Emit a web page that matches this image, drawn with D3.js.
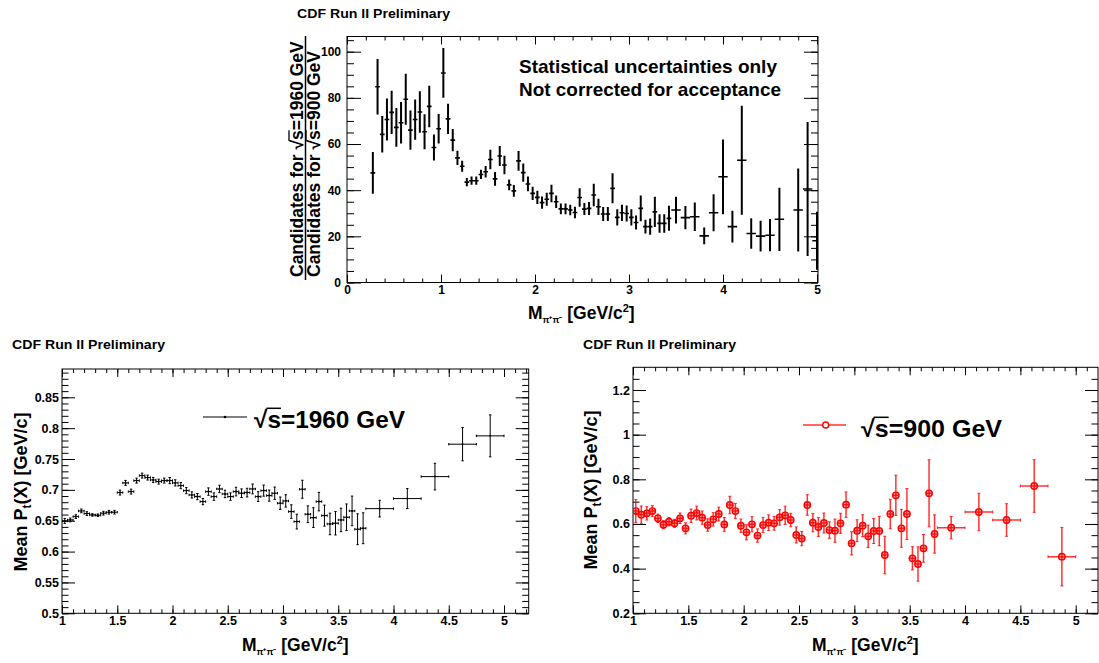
<!DOCTYPE html>
<html>
<head>
<meta charset="utf-8">
<script src="https://cdn.jsdelivr.net/npm/d3@7"></script>
<style>
body { margin: 0; background: #fff; }
svg { display: block; font-family: "Liberation Sans", Arial, Helvetica, sans-serif; font-weight: bold; }
</style>
</head>
<body>
<div id="chart"></div>
<script>
// ---- data ----
// top: ratio of candidates 1960 / 900 GeV, 0.05 bins then 0.1 bins
var ratioFineX = [0.275,0.325,0.375,0.425,0.475,0.525,0.575,0.625,0.675,0.725,0.775,0.825,0.875,0.925,0.975,
  1.025,1.075,1.125,1.175,1.225,1.275,1.325,1.375,1.425,1.475,1.525,1.575,1.625,1.675,1.725,1.775,1.825,1.875,1.925,1.975,
  2.025,2.075,2.125,2.175,2.225,2.275,2.325,2.375,2.425,2.475,2.525,2.575,2.625,2.675,2.725,2.775,2.825,2.875,2.925,2.975,
  3.025,3.075,3.125,3.175,3.225,3.275,3.325,3.375,3.425];
var ratioFineY = [47.5,84.8,64.2,70.6,73.7,67.2,69.2,79.4,66,70.6,73.9,65.3,76.3,58.5,66.6,
  90.8,70.9,61.7,54,50.4,43.5,44.1,44.1,46.8,48,53.3,44.9,54.8,50.9,42.3,39.7,52.7,47.6,42.7,38.6,
  36.9,34.6,36.1,38.6,35,31.9,31.9,31.4,30.3,36.8,31.8,32.1,37.9,32.8,29.7,29.7,40.8,28.2,30.2,29.9,
  28.2,26,32.1,24.2,24.2,30.6,25.6,25.6,27.8];
var ratioFineErr = [9,12,7.9,9.1,9.4,8.4,9,11,8.5,8.7,9,7.6,9,5.6,6.4,
  10.8,6.6,4.8,3.1,2.4,1.8,1.8,1.8,2,2.5,4.2,3,4.3,4,2.3,2.5,4.3,4,3.2,2.9,
  2.9,2.7,2.8,3.8,2.7,2.3,2.3,2.3,2.5,4,2.6,2.8,4.9,3.5,3,3,6.5,3.5,3.5,3.5,
  3.5,3,5.6,3,3.5,6.5,4,4,5.4];
var ratioWideX = [3.5,3.6,3.7,3.8,3.9,4.0,4.1,4.2,4.3,4.4,4.5,4.6,4.8,4.9,5.0];
var ratioWideY = [31.4,28.1,28.5,20.2,30.2,45.8,24.2,53,21.2,20.1,20.5,27.4,31.4,40.5,18.1];
var ratioWideErr = [5.8,5,6.2,3.6,8,16.2,6.9,23.6,6.6,6.7,7,13.7,18,29,12.6];

// bottom left: mean pt at 1960 GeV
var pt1960FineX = [1.025,1.075,1.125,1.175,1.225,1.275,1.325,1.375,1.425,1.475,1.525,1.575,1.625,1.675,1.725,1.775,1.825,1.875,1.925,1.975,
  2.025,2.075,2.125,2.175,2.225,2.275,2.325,2.375,2.425,2.475,2.525,2.575,2.625,2.675,2.725,2.775,2.825,2.875,2.925,2.975,
  3.025,3.075,3.125,3.175,3.225,3.275,3.325,3.375,3.425,3.475,3.525,3.575,3.625,3.675,3.725];
var pt1960FineY = [0.6497,0.6513,0.6567,0.6659,0.6616,0.6594,0.6589,0.6622,0.6638,0.6638,0.6956,0.7113,0.6972,0.715,0.7231,0.7199,0.7161,0.7134,0.715,0.715,
  0.7113,0.7069,0.6988,0.6918,0.6891,0.681,0.6972,0.6891,0.7015,0.6934,0.6891,0.6972,0.6946,0.6956,0.7015,0.6891,0.6988,0.6907,0.6946,0.6784,
  0.6821,0.6648,0.6486,0.701,0.6605,0.655,0.681,0.6583,0.6448,0.6459,0.6513,0.6556,0.6659,0.6362,0.6378];
var pt1960FineErr = [0.004,0.003,0.003,0.003,0.003,0.002,0.002,0.003,0.003,0.003,0.004,0.004,0.004,0.004,0.004,0.004,0.004,0.004,0.004,0.005,
  0.005,0.005,0.005,0.005,0.005,0.005,0.006,0.006,0.006,0.006,0.006,0.007,0.007,0.007,0.008,0.008,0.009,0.009,0.01,0.01,
  0.01,0.011,0.012,0.0146,0.0135,0.016,0.015,0.017,0.0175,0.019,0.019,0.0216,0.024,0.025,0.025];
var pt1960WideX = [3.875,4.125,4.375,4.625,4.875];
var pt1960WideY = [0.6696,0.6859,0.7215,0.774,0.7875];
var pt1960WideErr = [0.0135,0.0162,0.0216,0.027,0.034];

// bottom right: mean pt at 900 GeV
var pt900FineX = pt1960FineX;
var pt900FineY = [0.658,0.6416,0.6476,0.658,0.6254,0.5968,0.6102,0.6028,0.6254,0.5806,0.637,0.649,0.6284,0.5953,0.6208,0.6446,0.598,0.685,0.658,0.5923,
  0.5627,0.5986,0.548,0.5953,0.6058,0.6028,0.6297,0.6387,0.6178,0.551,0.5346,0.685,0.6058,0.5864,0.6043,0.5729,0.5699,0.6028,0.6864,0.5135,
  0.5699,0.5923,0.5448,0.5686,0.5686,0.461,0.6447,0.7284,0.5806,0.6447,0.4463,0.4208,0.491,0.7374,0.5551];
var pt900FineErr = [0.052,0.039,0.03,0.024,0.019,0.018,0.019,0.018,0.024,0.025,0.03,0.031,0.03,0.028,0.03,0.031,0.031,0.039,0.034,0.03,
  0.034,0.034,0.03,0.034,0.035,0.031,0.035,0.041,0.03,0.036,0.032,0.046,0.041,0.043,0.045,0.037,0.052,0.045,0.057,0.052,
  0.049,0.049,0.05,0.056,0.066,0.084,0.066,0.09,0.085,0.114,0.052,0.077,0.062,0.15,0.086];
var pt900WideX = pt1960WideX;
var pt900WideY = [0.5834,0.6536,0.6178,0.77,0.4535];
var pt900WideErr = [0.05,0.084,0.073,0.118,0.131];

// tick labels
var topXTicks = [0,1,2,3,4,5];
var topYTicks = [0,20,40,60,80,100];
var massTicks = [1,1.5,2,2.5,3,3.5,4,4.5,5];
var pt1960YTicks = [0.5,0.55,0.6,0.65,0.7,0.75,0.8,0.85];
var pt900YTicks = [0.2,0.4,0.6,0.8,1,1.2];

function points(xs, ys, es, w) {
  return xs.map(function(v, i) { return {x: v, y: ys[i], e: es[i], w: w}; });
}

var W = 1099, H = 663;
var svg = d3.select("#chart").append("svg").attr("width", W).attr("height", H);

function fmt(v) { return String(+v.toFixed(2)); }

function makePanel(p) {
  var x = d3.scaleLinear().domain(p.xDomain).range(p.xRange);
  var y = d3.scaleLinear().domain(p.yDomain).range(p.yRange);
  var g = svg.append("g");

  function axis(gen, vals, size, labels, tx, ty) {
    var horiz = gen === d3.axisBottom || gen === d3.axisTop;
    var a = gen(horiz ? x : y)
      .tickValues(vals).tickSizeInner(-size).tickSizeOuter(0)
      .tickPadding(labels ? (horiz ? p.xPad : p.yPad) : 0)
      .tickFormat(labels ? fmt : "");
    var ag = g.append("g").attr("transform", "translate(" + tx + "," + ty + ")").call(a);
    ag.attr("font-family", null).attr("font-size", null);
    ag.select(".domain").remove();
    ag.selectAll("line").attr("stroke", "#000");
    ag.selectAll("text").attr("font-size", p.tickFont).attr("fill", "#000");
    return ag;
  }
  // minor then major ticks on all four sides, pointing in
  [d3.axisBottom, d3.axisTop].forEach(function(gen) {
    var ty = gen === d3.axisBottom ? p.bottom : p.top;
    axis(gen, p.xMinor, p.xTick / 2, false, 0, ty);
    axis(gen, p.xMajor, p.xTick, gen === d3.axisBottom, 0, ty);
  });
  [d3.axisLeft, d3.axisRight].forEach(function(gen) {
    var tx = gen === d3.axisLeft ? p.left : p.right;
    axis(gen, p.yMinor, p.yTick / 2, false, tx, 0);
    axis(gen, p.yMajor, p.yTick, gen === d3.axisLeft, tx, 0);
  });

  g.append("rect")
    .attr("x", p.left).attr("y", p.top)
    .attr("width", p.right - p.left).attr("height", p.bottom - p.top)
    .attr("fill", "none").attr("stroke", "#000").attr("stroke-width", 1);

  var clipId = "clip" + p.left;
  svg.append("clipPath").attr("id", clipId).append("rect")
    .attr("x", p.left).attr("y", p.top).attr("width", p.right - p.left).attr("height", p.bottom - p.top);
  var plot = g.append("g").attr("clip-path", "url(#" + clipId + ")");
  return {x: x, y: y, g: g, plot: plot};
}

function drawErrors(pan, pts, color, vw, hw, cap, opacity) {
  var x = pan.x, y = pan.y;
  var sel = pan.plot.selectAll(null).data(pts).enter().append("g")
    .attr("stroke", color).attr("stroke-opacity", opacity);
  sel.append("line")
    .attr("x1", d => x(d.x)).attr("x2", d => x(d.x))
    .attr("y1", d => y(d.y - d.e)).attr("y2", d => y(d.y + d.e))
    .attr("stroke-width", vw);
  sel.append("line")
    .attr("x1", d => x(d.x - d.w / 2)).attr("x2", d => x(d.x + d.w / 2))
    .attr("y1", d => y(d.y)).attr("y2", d => y(d.y))
    .attr("stroke-width", hw);
  if (cap > 0) {
    sel.append("path")
      .attr("fill", "none").attr("stroke-width", 1)
      .attr("d", function(d) {
        var cx = x(d.x), t = y(d.y + d.e), b = y(d.y - d.e), l = x(d.x - d.w / 2), r = x(d.x + d.w / 2), cy = y(d.y);
        return "M" + (cx - cap) + "," + t + "H" + (cx + cap) +
               "M" + (cx - cap) + "," + b + "H" + (cx + cap) +
               "M" + l + "," + (cy - cap) + "V" + (cy + cap) +
               "M" + r + "," + (cy - cap) + "V" + (cy + cap);
      });
  }
  return sel;
}

// bar over the "s" that follows the radical sign
function sqrtBar(parent, textSel, fs, sw) {
  var node = textSel.node();
  var i = node.textContent.indexOf("\u221A");
  if (i < 0) return;
  var a = node.getExtentOfChar(i), b = node.getExtentOfChar(i + 1);
  var baseY = +textSel.attr("y") || 0;
  var yTop = baseY - fs * 0.80;
  parent.append("line")
    .attr("x1", a.x + a.width - 1).attr("x2", b.x + b.width)
    .attr("y1", yTop).attr("y2", yTop)
    .attr("stroke", "#000").attr("stroke-width", sw);
}

function massTitle(x0, y0) {
  var t = svg.append("text").attr("x", x0).attr("y", y0).attr("font-size", 17.5).attr("fill", "#000");
  t.append("tspan").text("M");
  t.append("tspan").attr("font-size", 9).attr("dy", 4).text("\u03C0\u207A\u03C0\u207B");
  t.append("tspan").attr("dy", -4).text(" [GeV/c");
  t.append("tspan").attr("font-size", 11).attr("dy", -7).text("2");
  t.append("tspan").attr("dy", 7).text("]");
}

function ptTitle(xb, yc) {
  var gg = svg.append("g").attr("transform", "translate(" + xb + "," + yc + ") rotate(-90)");
  var t = gg.append("text").attr("text-anchor", "middle").attr("font-size", 18).attr("fill", "#000");
  t.append("tspan").text("Mean P");
  t.append("tspan").attr("font-size", 12).attr("dy", 4).text("t");
  t.append("tspan").attr("dy", -4).text("(X) [GeV/c]");
}

function cdfLabel(x0, y0) {
  svg.append("text").attr("x", x0).attr("y", y0).attr("font-size", 12.5).attr("fill", "#000")
    .attr("textLength", 153).attr("lengthAdjust", "spacingAndGlyphs")
    .text("CDF Run II Preliminary");
}

// ---------------- top panel ----------------
var topP = makePanel({
  left: 347, right: 818, top: 36.5, bottom: 282.5,
  xDomain: [0, 5], xRange: [347, 817], yDomain: [0, 100], yRange: [282.5, 51.7],
  xMajor: topXTicks, xMinor: d3.range(0, 5.01, 0.2),
  yMajor: topYTicks, yMinor: d3.range(0, 106, 5),
  xTick: 8, yTick: 14, tickFont: 12, xPad: 3, yPad: 6
});
var ratioPts = points(ratioFineX, ratioFineY, ratioFineErr, 0.05)
  .concat(points(ratioWideX, ratioWideY, ratioWideErr, 0.1));
drawErrors(topP, ratioPts, "#000", 2, 1.6, 0, 1);

cdfLabel(297, 18);
svg.append("text").attr("x", 519).attr("y", 73).attr("font-size", 18.5).attr("fill", "#000")
  .attr("textLength", 258).attr("lengthAdjust", "spacingAndGlyphs")
  .text("Statistical uncertainties only");
svg.append("text").attr("x", 519).attr("y", 96).attr("font-size", 18.5).attr("fill", "#000")
  .attr("textLength", 262).attr("lengthAdjust", "spacingAndGlyphs")
  .text("Not corrected for acceptance");
massTitle(528, 318.5);

// fraction y title
var numG = svg.append("g").attr("transform", "translate(303,277) rotate(-90)");
var numT = numG.append("text").attr("x", 0).attr("y", 0).attr("font-size", 17.5).attr("fill", "#000")
  .text("Candidates for \u221As=1960 GeV");
sqrtBar(numG, numT, 17.5, 1.3);
var denG = svg.append("g").attr("transform", "translate(320,277) rotate(-90)");
var denT = denG.append("text").attr("x", 0).attr("y", 0).attr("font-size", 17.5).attr("fill", "#000")
  .text("Candidates for \u221As=900 GeV");
sqrtBar(denG, denT, 17.5, 1.3);
svg.append("line").attr("x1", 305.5).attr("x2", 305.5).attr("y1", 36).attr("y2", 280)
  .attr("stroke", "#000").attr("stroke-width", 1.5);

// ---------------- bottom left ----------------
var leftP = makePanel({
  left: 62, right: 528.7, top: 369, bottom: 613.3,
  xDomain: [1, 5], xRange: [62, 504], yDomain: [0.5, 0.85], yRange: [613.3, 397.3],
  xMajor: massTicks, xMinor: d3.range(1, 5.22, 0.1),
  yMajor: pt1960YTicks, yMinor: d3.range(0.5, 0.895, 0.01),
  xTick: 8, yTick: 13, tickFont: 12.5, xPad: 3, yPad: 3
});
var pts1960 = points(pt1960FineX, pt1960FineY, pt1960FineErr, 0.05)
  .concat(points(pt1960WideX, pt1960WideY, pt1960WideErr, 0.25));
drawErrors(leftP, pts1960, "#000", 1, 1, 1.2, 1);
leftP.plot.selectAll(null).data(pts1960).enter().append("circle")
  .attr("cx", d => leftP.x(d.x)).attr("cy", d => leftP.y(d.y)).attr("r", 1).attr("fill", "#000");

cdfLabel(12, 349);
massTitle(242, 650.5);
ptTitle(27, 492);
// legend
svg.append("line").attr("x1", 203).attr("x2", 247).attr("y1", 417).attr("y2", 417)
  .attr("stroke", "#000").attr("stroke-width", 1);
svg.append("circle").attr("cx", 225).attr("cy", 417).attr("r", 1.3).attr("fill", "#000");
var leg1 = svg.append("text").attr("x", 254).attr("y", 427.5).attr("font-size", 24).attr("fill", "#000")
  .attr("textLength", 151).attr("lengthAdjust", "spacingAndGlyphs")
  .text("\u221As=1960 GeV");
sqrtBar(svg, leg1, 24, 1.5);

// ---------------- bottom right ----------------
var rightP = makePanel({
  left: 633, right: 1098, top: 367.3, bottom: 613.3,
  xDomain: [1, 5], xRange: [633, 1075.7], yDomain: [0.2, 1.2], yRange: [613.3, 390],
  xMajor: massTicks, xMinor: d3.range(1, 5.2, 0.1),
  yMajor: pt900YTicks, yMinor: d3.range(0.2, 1.3, 0.05),
  xTick: 8, yTick: 13, tickFont: 12.5, xPad: 3, yPad: 3
});
var pts900 = points(pt900FineX, pt900FineY, pt900FineErr, 0.05)
  .concat(points(pt900WideX, pt900WideY, pt900WideErr, 0.25));
drawErrors(rightP, pts900, "#ff0000", 1.5, 1.5, 1.5, 0.8);
rightP.plot.selectAll(null).data(pts900).enter().append("circle")
  .attr("cx", d => rightP.x(d.x)).attr("cy", d => rightP.y(d.y)).attr("r", 3.2)
  .attr("fill", "#ff0000").attr("fill-opacity", 0.35)
  .attr("stroke", "#ff0000").attr("stroke-width", 1.4);

cdfLabel(583, 349);
massTitle(812, 650.5);
ptTitle(597, 490);
svg.append("line").attr("x1", 803).attr("x2", 846).attr("y1", 425).attr("y2", 425)
  .attr("stroke", "#ff0000").attr("stroke-opacity", 0.8).attr("stroke-width", 1.5);
svg.append("circle").attr("cx", 825.7).attr("cy", 425).attr("r", 3)
  .attr("fill", "#fff").attr("stroke", "#ff0000").attr("stroke-width", 1.4);
var leg2 = svg.append("text").attr("x", 861).attr("y", 436.5).attr("font-size", 24).attr("fill", "#000")
  .attr("textLength", 141).attr("lengthAdjust", "spacingAndGlyphs")
  .text("\u221As=900 GeV");
sqrtBar(svg, leg2, 24, 1.5);
</script>
</body>
</html>
